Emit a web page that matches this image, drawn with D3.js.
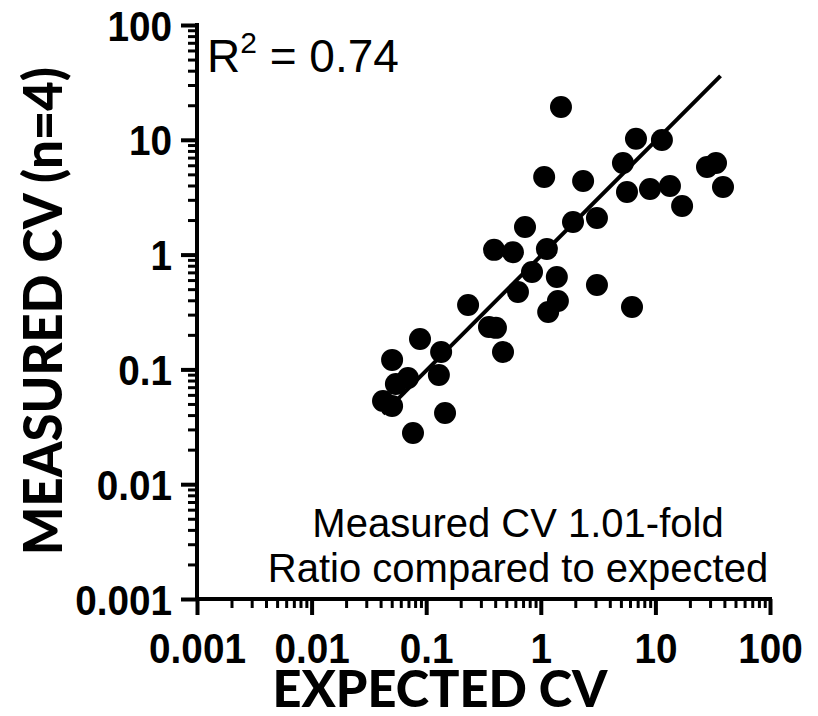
<!DOCTYPE html>
<html>
<head>
<meta charset="utf-8">
<script src="https://cdn.jsdelivr.net/npm/d3@7"></script>
<style>
  body { margin: 0; background: #fff; }
  svg { display: block; }
</style>
</head>
<body>
<svg id="chart" width="818" height="716"></svg>
<script>

// expected CV (x) and measured CV (y)
var expectedCV = [1.50, 6.77, 11.4, 28.2, 33.8, 38.9, 5.21, 1.07, 2.34, 5.65,
	8.97, 13.4, 17.1, 1.91, 3.09, 0.728, 0.391, 0.571, 1.13, 0.838,
	1.38, 3.09, 0.632, 0.232, 1.41, 1.16, 6.25, 0.353, 0.406, 0.0883,
	0.135, 0.468, 0.0504, 0.0693, 0.0544, 0.129, 0.0420, 0.0504, 0.146, 0.0767];
var measuredCV = [19.3, 10.2, 9.96, 5.79, 6.28, 3.88, 6.28, 4.74, 4.38, 3.51,
	3.73, 3.96, 2.65, 1.92, 2.08, 1.74, 1.10, 1.05, 1.12, 0.705,
	0.638, 0.543, 0.472, 0.364, 0.394, 0.316, 0.350, 0.234, 0.230, 0.184,
	0.142, 0.142, 0.121, 0.0841, 0.0746, 0.0894, 0.0531, 0.0480, 0.0417, 0.0279];

// regression line end points
var fitX = [0.042, 37];
var fitY = [0.041, 36];

var majorTicks = [0.001, 0.01, 0.1, 1, 10, 100];
var majorLabels = ["0.001", "0.01", "0.1", "1", "10", "100"];
var minorSteps = [2, 3, 4, 5, 6, 7, 8, 9];

var annotation = ["Measured CV 1.01-fold", "Ratio compared to expected"];
var rSquared = "0.74";

var svg = d3.select("#chart");

var x = d3.scaleLog().domain([0.001, 100]).range([197, 770]);
var y = d3.scaleLog().domain([0.001, 100]).range([599, 25]);

var minorTicks = [];
majorTicks.slice(0, -1).forEach(function (d) {
	minorSteps.forEach(function (s) { minorTicks.push(d * s); });
});

var tickFont = "'Liberation Sans', Arial, sans-serif";
var titleFont = "Lato, 'Noto Sans', sans-serif";

function styleAxis(g, width) {
	g.select(".domain").remove();
	g.selectAll(".tick line").attr("stroke", "#000").attr("stroke-width", width);
}

// minor ticks
svg.append("g")
	.attr("transform", "translate(0,599)")
	.call(d3.axisBottom(x).tickValues(minorTicks).tickSize(9).tickFormat(""))
	.call(styleAxis, 3);

svg.append("g")
	.attr("transform", "translate(197,0)")
	.call(d3.axisLeft(y).tickValues(minorTicks).tickSize(9).tickFormat(""))
	.call(styleAxis, 3);

// major ticks + labels
var xAxis = svg.append("g")
	.attr("transform", "translate(0,599)")
	.call(d3.axisBottom(x).tickValues(majorTicks).tickSize(16).tickPadding(17)
		.tickFormat(function (d, i) { return majorLabels[i]; }))
	.call(styleAxis, 4);

var yAxis = svg.append("g")
	.attr("transform", "translate(197,0)")
	.call(d3.axisLeft(y).tickValues(majorTicks).tickSize(16).tickPadding(9)
		.tickFormat(function (d, i) { return majorLabels[i]; }))
	.call(styleAxis, 4);

// bold, slightly narrow tick labels like the original
[xAxis, yAxis].forEach(function (g) {
	g.selectAll(".tick text")
		.attr("fill", "#000")
		.style("font-family", tickFont)
		.style("font-weight", "bold")
		.style("font-size", "43px")
		.each(function () {
			var w = this.getComputedTextLength();
			d3.select(this)
				.attr("textLength", w * 0.9)
				.attr("lengthAdjust", "spacingAndGlyphs");
		});
});
yAxis.selectAll(".tick text").attr("dy", "0.35em");

// axis lines
svg.append("line")
	.attr("x1", x(0.001)).attr("x2", x(100))
	.attr("y1", y(0.001)).attr("y2", y(0.001))
	.attr("stroke", "#000").attr("stroke-width", 4).attr("stroke-linecap", "square");
svg.append("line")
	.attr("x1", x(0.001)).attr("x2", x(0.001))
	.attr("y1", y(0.001)).attr("y2", y(100))
	.attr("stroke", "#000").attr("stroke-width", 4).attr("stroke-linecap", "square");

// regression line
svg.append("line")
	.attr("x1", x(fitX[0])).attr("y1", y(fitY[0]))
	.attr("x2", x(fitX[1])).attr("y2", y(fitY[1]))
	.attr("stroke", "#000").attr("stroke-width", 4);

// points
svg.append("g").selectAll("circle")
	.data(expectedCV)
	.enter()
	.append("circle")
	.attr("cx", function (d) { return x(d); })
	.attr("cy", function (d, i) { return y(measuredCV[i]); })
	.attr("r", 11)
	.attr("fill", "#000");

// R squared
var r2 = svg.append("text")
	.attr("x", 207).attr("y", 72)
	.style("font-family", tickFont)
	.style("font-size", "46px")
	.attr("fill", "#000");
r2.append("tspan").text("R");
r2.append("tspan").attr("dy", -19).style("font-size", "30px").text("2");
r2.append("tspan").attr("dy", 19).text(" = " + rSquared);

// annotation
svg.append("g").selectAll("text")
	.data(annotation)
	.enter()
	.append("text")
	.attr("x", 518)
	.attr("y", function (d, i) { return 537 + i * 45; })
	.attr("text-anchor", "middle")
	.style("font-family", tickFont)
	.style("font-size", "40px")
	.attr("fill", "#000")
	.text(function (d) { return d; });

// axis titles
svg.append("text")
	.attr("transform", "translate(62,311) rotate(-90)")
	.attr("text-anchor", "middle")
	.attr("textLength", 488)
	.attr("lengthAdjust", "spacingAndGlyphs")
	.style("font-family", titleFont)
	.style("font-weight", "900")
	.style("font-size", "54px")
	.attr("fill", "#000")
	.text("MEASURED CV (n=4)");

svg.append("text")
	.attr("x", 440).attr("y", 707)
	.attr("text-anchor", "middle")
	.attr("textLength", 335)
	.attr("lengthAdjust", "spacingAndGlyphs")
	.style("font-family", titleFont)
	.style("font-weight", "900")
	.style("font-size", "52px")
	.attr("fill", "#000")
	.text("EXPECTED CV");

</script>
</body>
</html>
